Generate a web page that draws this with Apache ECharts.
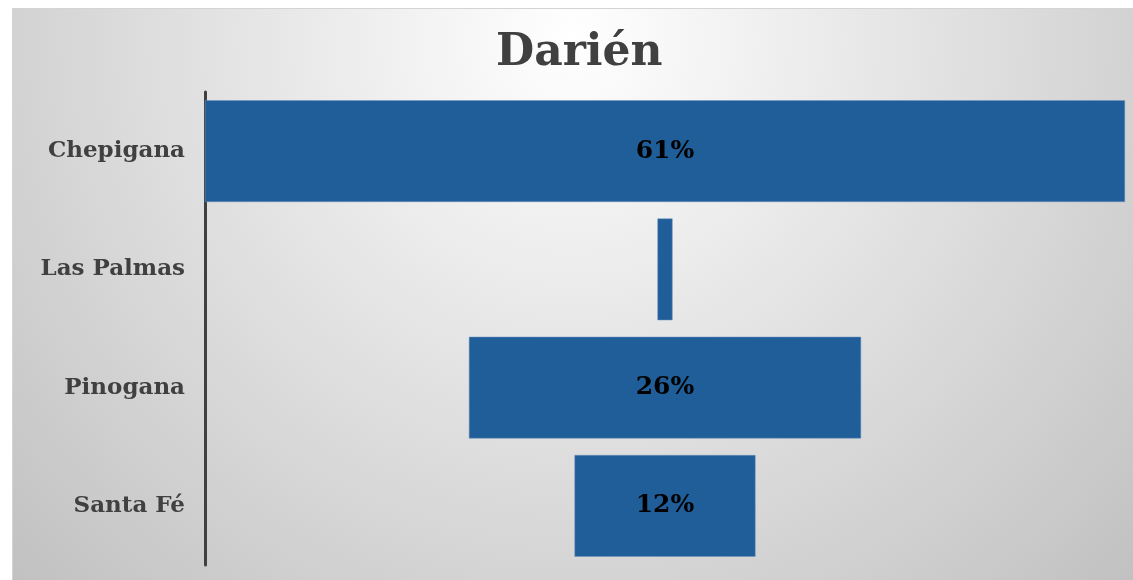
<!DOCTYPE html>
<html>
<head>
<meta charset="utf-8">
<script src="https://cdn.jsdelivr.net/npm/echarts@6/dist/echarts.min.js"></script>
<style>
html,body{margin:0;padding:0;background:#ffffff;}
#chart{width:1133px;height:580px;}
</style>
</head>
<body>
<div id="chart"></div>
<script>
var categories = ['Chepigana', 'Las Palmas', 'Pinogana', 'Santa Fé'];
var values = [61, 1, 26, 12];
var labels = ['61%', '', '26%', '12%'];

var maxVal = Math.max.apply(null, values);
var offsets = values.map(function (v) { return (maxVal - v) / 2; });

var chart = echarts.init(document.getElementById('chart'));
chart.setOption({
  animation: false,
  backgroundColor: 'transparent',
  graphic: [{
    type: 'rect',
    left: 12, top: 8,
    shape: { width: 1121, height: 572 },
    style: {
      fill: {
        type: 'radial', x: 0.5, y: 0.05, r: 1.45,
        colorStops: [{ offset: 0, color: '#ffffff' }, { offset: 1, color: '#bdbdbd' }]
      },
      stroke: '#d4d4d4', lineWidth: 1
    },
    z: -10
  }],
  title: {
    text: 'Darién',
    left: 491,
    top: 27,
    textStyle: { fontFamily: 'DejaVu Serif', fontWeight: 'bold', fontSize: 44, color: '#404040' }
  },
  grid: { left: 205, right: 8, top: 92, height: 473, containLabel: false },
  xAxis: {
    type: 'value', min: 0, max: maxVal,
    show: false
  },
  yAxis: {
    type: 'category',
    data: categories,
    inverse: true,
    axisLine: { show: true, lineStyle: { color: '#404040', width: 3 } },
    axisTick: { show: false },
    axisLabel: { fontFamily: 'DejaVu Serif', fontWeight: 'bold', fontSize: 23, color: '#404040', margin: 20 }
  },
  series: [{
    type: 'bar',
    stack: 'f',
    data: offsets,
    itemStyle: { color: 'transparent' },
    barCategoryGap: '14%',
    silent: true
  }, {
    type: 'bar',
    stack: 'f',
    data: values,
    barCategoryGap: '14%',
    itemStyle: { color: '#1f5e99', borderColor: '#6e93bd', borderWidth: 0.5 },
    label: {
      show: true, position: 'inside',
      formatter: function (p) { return labels[p.dataIndex]; },
      fontFamily: 'DejaVu Serif', fontWeight: 'bold', fontSize: 25, color: '#000000'
    }
  }]
});
</script>
</body>
</html>
